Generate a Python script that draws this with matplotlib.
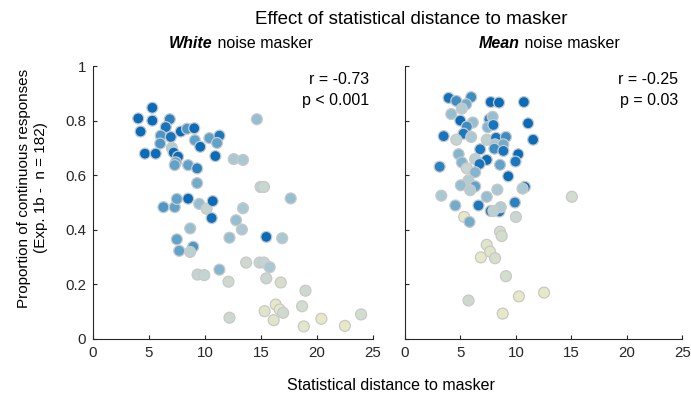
import matplotlib
matplotlib.use("Agg")
import matplotlib.pyplot as plt
from matplotlib.colors import LinearSegmentedColormap
import numpy as np

plt.rcParams['font.family'] = ['Liberation Sans', 'DejaVu Sans']

# white noise masker: statistical distance, proportion continuous, colour value
white_x = [4.04, 5.3, 5.3, 4.25, 6.86, 6.5, 6.05, 6.95, 6.0, 7.84, 8.4, 9.04, 9.1, 9.58, 10.4,
           11.3, 11.08, 10.93, 4.64, 5.6, 7.04, 7.2, 7.6, 7.4, 7.3, 8.5, 9.3, 9.3, 12.57, 13.4,
           14.64, 14.97, 15.27, 17.66, 6.29, 7.3, 7.49, 8.5, 9.49, 10.15, 10.69, 10.6, 13.4, 12.78,
           13.3, 8.68, 7.49, 8.95, 7.7, 8.68, 12.19, 15.48, 16.9, 9.34, 9.94, 11.29, 12.1, 13.68,
           14.88, 15.27, 15.78, 15.48, 16.77, 18.98, 12.19, 15.33, 16.32, 16.68, 16.98, 16.14,
           18.68, 18.83, 20.4, 22.5, 23.95]
white_y = [0.808, 0.847, 0.80, 0.76, 0.805, 0.776, 0.745, 0.74, 0.716, 0.76, 0.77, 0.772, 0.728,
           0.704, 0.736, 0.745, 0.718, 0.67, 0.679, 0.679, 0.70, 0.683, 0.668, 0.647, 0.637,
           0.637, 0.625, 0.571, 0.659, 0.656, 0.805, 0.557, 0.557, 0.515, 0.483, 0.483, 0.513,
           0.514, 0.495, 0.477, 0.505, 0.443, 0.479, 0.435, 0.401, 0.405, 0.365, 0.338, 0.323,
           0.319, 0.371, 0.374, 0.369, 0.236, 0.234, 0.254, 0.21, 0.28, 0.28, 0.28, 0.263, 0.222,
           0.207, 0.177, 0.078, 0.102, 0.126, 0.108, 0.096, 0.069, 0.12, 0.046, 0.074, 0.048, 0.09]
white_c = [1.0, 1.0, 1.0, 1.0, 0.75, 0.85, 0.65, 0.85, 0.65, 1.0, 0.65, 1.0, 0.6, 1.0, 0.6,
           0.8, 0.6, 1.0, 1.0, 1.0, 0.35, 1.0, 1.0, 0.6, 0.6, 0.6, 0.75, 0.55, 0.4, 0.4,
           0.45, 0.3, 0.22, 0.45, 0.65, 0.6, 0.6, 1.0, 0.45, 0.25, 1.0, 0.95, 0.4, 0.45,
           0.4, 0.45, 0.6, 0.65, 0.6, 0.3, 0.45, 1.0, 0.4, 0.25, 0.25, 0.5, 0.2, 0.2, 0.25,
           0.25, 0.4, 0.22, 0.12, 0.2, 0.2, 0.05, 0.0, 0.0, 0.18, 0.05, 0.15, 0.02, 0.0, 0.0, 0.15]

# mean noise masker
mean_x = [3.94, 4.63, 5.97, 5.52, 5.13, 4.18, 7.73, 8.48, 10.72, 4.99, 6.12, 5.58, 7.61, 7.91,
          7.46, 7.97, 11.1, 3.49, 5.28, 5.97, 4.63, 7.37, 8.21, 9.1, 11.55, 8.12, 8.87, 6.78,
          8.06, 8.87, 4.84, 10.21, 5.13, 6.33, 7.37, 6.72, 8.57, 9.97, 3.13, 5.58, 6.33, 9.31,
          5.73, 5.04, 6.33, 5.88, 8.33, 10.81, 10.6, 3.28, 7.37, 15.04, 4.54, 6.63, 7.73, 8.51,
          8.63, 7.97, 9.91, 10.0, 5.34, 5.82, 8.57, 8.72, 7.37, 7.67, 6.84, 8.12, 9.1, 5.73,
          10.27, 12.54, 8.81]
mean_y = [0.883, 0.872, 0.886, 0.86, 0.844, 0.824, 0.868, 0.866, 0.868, 0.80, 0.793, 0.778,
          0.805, 0.814, 0.776, 0.784, 0.79, 0.743, 0.752, 0.74, 0.73, 0.73, 0.737, 0.74, 0.73,
          0.713, 0.713, 0.695, 0.697, 0.689, 0.677, 0.677, 0.647, 0.659, 0.656, 0.641, 0.638,
          0.65, 0.631, 0.625, 0.611, 0.596, 0.581, 0.563, 0.559, 0.545, 0.547, 0.557, 0.551,
          0.525, 0.521, 0.521, 0.489, 0.489, 0.469, 0.467, 0.483, 0.469, 0.50, 0.447, 0.447,
          0.429, 0.393, 0.377, 0.345, 0.32, 0.299, 0.296, 0.23, 0.141, 0.156, 0.17, 0.093]
mean_c = [0.9, 0.7, 0.7, 0.55, 0.35, 0.45, 1.0, 1.0, 1.0, 1.0, 0.45, 0.7, 0.75, 0.45,
          0.5, 0.85, 1.0, 0.85, 0.8, 0.4, 0.25, 0.3, 0.85, 0.7, 1.0, 0.4, 0.55, 0.8,
          0.7, 0.85, 0.5, 1.0, 0.5, 0.3, 1.0, 0.85, 0.6, 0.8, 0.75, 0.22, 0.5, 1.0,
          0.35, 0.45, 0.6, 0.35, 0.4, 1.0, 0.4, 0.4, 0.45, 0.15, 0.55, 0.8, 0.85, 0.8,
          0.35, 0.3, 0.75, 0.22, 0.0, 0.55, 0.15, 0.15, 0.05, 0.05, 0.0, 0.12, 0.15, 0.2,
          0.0, 0.0, 0.0]

panel_titles = [("White", " noise masker"), ("Mean", " noise masker")]
stats = [("r = -0.73", "p < 0.001"), ("r = -0.25", "p = 0.03")]

cmap = LinearSegmentedColormap.from_list(
    "dist", ["#e6e8c6", "#cdd9d0", "#a9c8d3", "#5fa2cb", "#1a78c0", "#0a6cb8"])

fig = plt.figure(figsize=(6.91, 4.0), dpi=100)
ax1 = fig.add_axes([0.1346, 0.1525, 0.405, 0.6825])
ax2 = fig.add_axes([0.586, 0.1525, 0.4015, 0.6825])

for i, (ax, xs, ys, cs) in enumerate([(ax1, white_x, white_y, white_c),
                                       (ax2, mean_x, mean_y, mean_c)]):
    ax.scatter(xs, ys, c=cs, cmap=cmap, vmin=0, vmax=1, s=62,
               edgecolors="#c9c9c9", linewidths=0.9, zorder=3, clip_on=False)
    ax.set_xlim(0, 25)
    ax.set_ylim(0, 1)
    ax.set_xticks([0, 5, 10, 15, 20, 25])
    ax.set_yticks([0, 0.2, 0.4, 0.6, 0.8, 1])
    ax.set_yticklabels(["0", "0.2", "0.4", "0.6", "0.8", "1"])
    ax.spines["top"].set_visible(False)
    ax.spines["right"].set_visible(False)
    for sp in ["left", "bottom"]:
        ax.spines[sp].set_color("#262626")
        ax.spines[sp].set_linewidth(0.8)
    ax.tick_params(direction="in", length=3, width=0.8, colors="#262626",
                   labelsize=10.8, pad=5)
    ax.text(0.985, 0.95, stats[i][0], transform=ax.transAxes, ha="right", va="center",
            fontsize=11.5)
    ax.text(0.985, 0.872, stats[i][1], transform=ax.transAxes, ha="right", va="center",
            fontsize=11.5)

ax2.set_yticklabels([])

fig.text(0.047, 0.53, "Proportion of continuous responses\n(Exp. 1b -  n = 182)",
         rotation=90, ha="center", va="center", fontsize=11, linespacing=1.25,
         multialignment="center")

# panel subtitles with bold italic first word, centred at measured positions
for cx_px, (bold, rest) in zip([241, 549], panel_titles):
    cx = cx_px / 691
    t1 = fig.text(cx, 0.892, bold, ha="right", va="center", fontsize=11.5,
                  fontweight="bold", fontstyle="italic")
    t2 = fig.text(cx, 0.892, rest, ha="left", va="center", fontsize=11.5)
    fig.canvas.draw()
    w1 = t1.get_window_extent().width / fig.bbox.width
    w2 = t2.get_window_extent().width / fig.bbox.width
    shift = (w1 - w2) / 2
    t1.set_x(cx + shift)
    t2.set_x(cx + shift)

fig.text(411 / 691, 0.95, "Effect of statistical distance to masker", ha="center",
         va="center", fontsize=13.5)
fig.text(391 / 691, 0.037, "Statistical distance to masker", ha="center", va="center",
         fontsize=11.5)

fig.savefig("out.png", dpi=100)
